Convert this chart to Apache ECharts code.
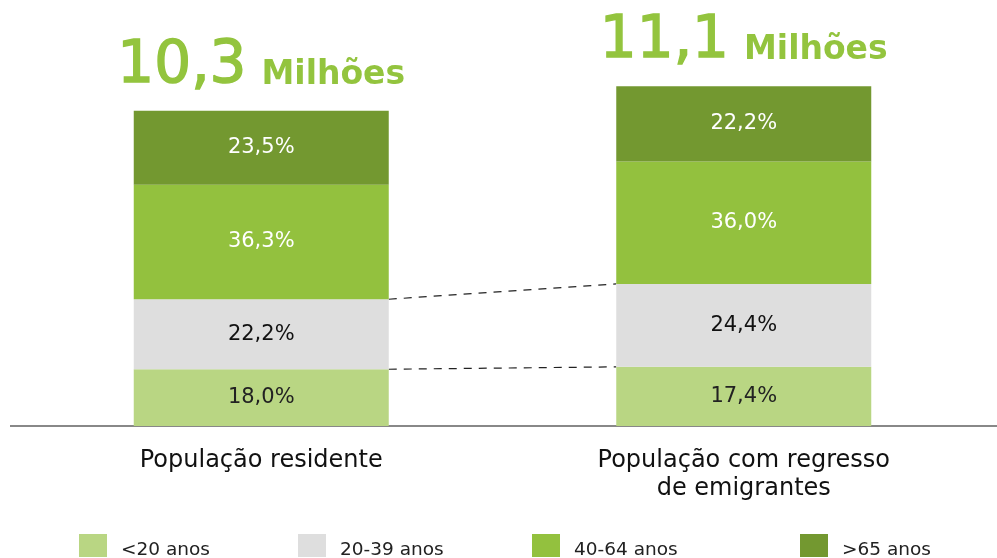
<!DOCTYPE html>
<html>
<head>
<meta charset="utf-8">
<script src="https://cdn.jsdelivr.net/npm/echarts@6/dist/echarts.min.js"></script>
<style>
  html, body { margin: 0; padding: 0; background: #fff; }
  #chart { width: 997px; height: 558px; }
</style>
</head>
<body>
<div id="chart"></div>
<script>
// categorias e totais (milhões)
const categories = ["População residente", "População com regresso\nde emigrantes"];
const totals = [10.3, 11.1];
const totalLabels = ["10,3", "11,1"];

// grupos etários (%)
const groups = ["<20 anos", "20-39 anos", "40-64 anos", ">65 anos"];
const under20 = [18.0, 17.4];
const age20to39 = [22.2, 24.4];
const age40to64 = [36.3, 36.0];
const over65 = [23.5, 22.2];

const colors = ["#b9d683", "#dedede", "#93c13e", "#739830"];
const labelColors = ["#222", "#111", "#fff", "#fff"];
const font = "DejaVu Sans";
const barW = 255;

const shares = [under20, age20to39, age40to64, over65];
// altura da barra em milhões = total * percentagem
const toMillions = (arr) => arr.map((p, i) => +(totals[i] * p / 100).toFixed(4));

const pct = (v) => v.toFixed(1).replace(".", ",") + "%";

const myChart = echarts.init(document.getElementById("chart"));

const barSeries = groups.map((g, k) => ({
  name: g,
  type: "bar",
  stack: "pop",
  barWidth: barW,
  itemStyle: { color: colors[k] },
  data: toMillions(shares[k]),
  label: {
    show: true,
    position: "inside",
    fontFamily: font,
    fontSize: 21,
    color: labelColors[k],
    formatter: (p) => pct(shares[k][p.dataIndex])
  }
}));

// título por cima da barra
const topSeries = {
  type: "bar",
  stack: "pop",
  barWidth: barW,
  silent: true,
  itemStyle: { color: "transparent" },
  data: [0, 0],
  label: {
    show: true,
    position: "top",
    distance: 15,
    formatter: (p) => "{big|" + totalLabels[p.dataIndex] + "}{gap|}{small|Milhões}",
    rich: {
      big: { fontFamily: font, fontSize: 58, color: "#93c43e", verticalAlign: "bottom", lineHeight: 60, textBorderColor: "#93c43e", textBorderWidth: 1.5 },
      gap: { width: 15, lineHeight: 60 },
      small: { fontFamily: font, fontSize: 33, fontWeight: "bold", color: "#93c43e", verticalAlign: "bottom", lineHeight: 60, padding: [0, 0, 4, 0] }
    }
  }
};

// linhas tracejadas entre as barras
const cum1 = toMillions(under20);
const cum2 = toMillions(under20).map((v, i) => v + toMillions(age20to39)[i]);
const dashSeries = {
  type: "custom",
  silent: true,
  encode: { x: 0, y: [1, 2] },
  data: [[0, cum1[0], cum1[1]], [0, cum2[0], cum2[1]]],
  renderItem: (params, api) => {
    const a = api.coord([0, api.value(1)]);
    const b = api.coord([1, api.value(2)]);
    return {
      type: "line",
      shape: { x1: a[0] + barW / 2, y1: a[1], x2: b[0] - barW / 2, y2: b[1] },
      style: { stroke: "#222", lineWidth: 1.2, lineDash: [8, 7] }
    };
  },
  z: 1
};

const legendLeft = [79, 298, 532, 800];
const legends = groups.map((g, k) => ({
  data: [g],
  left: legendLeft[k],
  top: 534,
  padding: 0,
  icon: "rect",
  itemWidth: 28,
  itemHeight: 23,
  itemGap: 0,
  selectedMode: false,
  formatter: "{t|{name}}",
  textStyle: {
    rich: {
      t: { fontFamily: font, fontSize: 18.5, color: "#222", padding: [10, 0, 0, 9] }
    }
  }
}));

const option = {
  animation: false,
  color: colors,
  legend: legends,
  grid: { left: 20, right: 12, top: 28, bottom: 132 },
  xAxis: {
    type: "category",
    data: categories,
    axisLine: { show: false },
    axisTick: { show: false },
    axisLabel: { fontFamily: font, fontSize: 24, color: "#111", lineHeight: 28, margin: 21 }
  },
  yAxis: {
    type: "value",
    min: 0,
    max: 13,
    show: false,
    splitLine: { show: false }
  },
  // linha de base da largura total
  graphic: [{
    type: "line",
    shape: { x1: 10, y1: 426, x2: 997, y2: 426 },
    style: { stroke: "#888", lineWidth: 2 },
    z: 0
  }],
  series: [...barSeries, topSeries, dashSeries]
};

option && myChart.setOption(option);
</script>
</body>
</html>
